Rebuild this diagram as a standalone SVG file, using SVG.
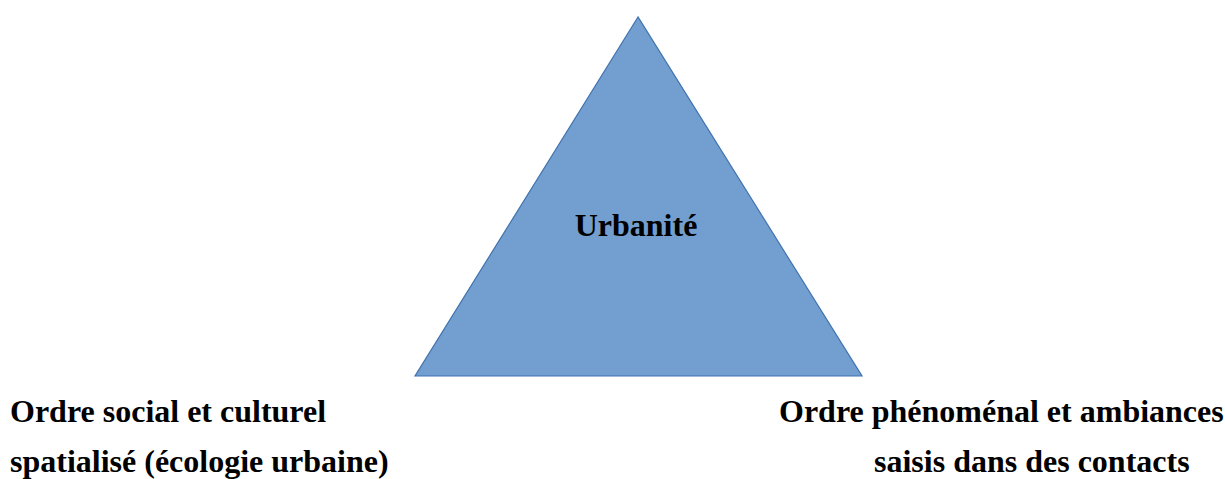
<svg xmlns="http://www.w3.org/2000/svg" width="1225" height="479" viewBox="0 0 1225 479">
<style>
text{font-family:"Liberation Serif","Times New Roman",serif;font-weight:bold;fill:#000;font-size:32px}
</style>
<rect width="1225" height="479" fill="#fff"/>
<g id="triangle">
<polygon points="638,17 415,376 862,376" fill="#729FCF" stroke="#3F72B0" stroke-width="1.2"/>
<text x="636" y="236" text-anchor="middle">Urbanité</text>
</g>
<g id="left-label">
<text x="10" y="422">Ordre social et culturel</text>
<text x="10" y="472">spatialisé (écologie urbaine)</text>
</g>
<g id="right-label">
<text x="779" y="422">Ordre phénoménal et ambiances</text>
<text x="874" y="472">saisis dans des contacts</text>
</g>
<g id="connectors"></g>
</svg>
